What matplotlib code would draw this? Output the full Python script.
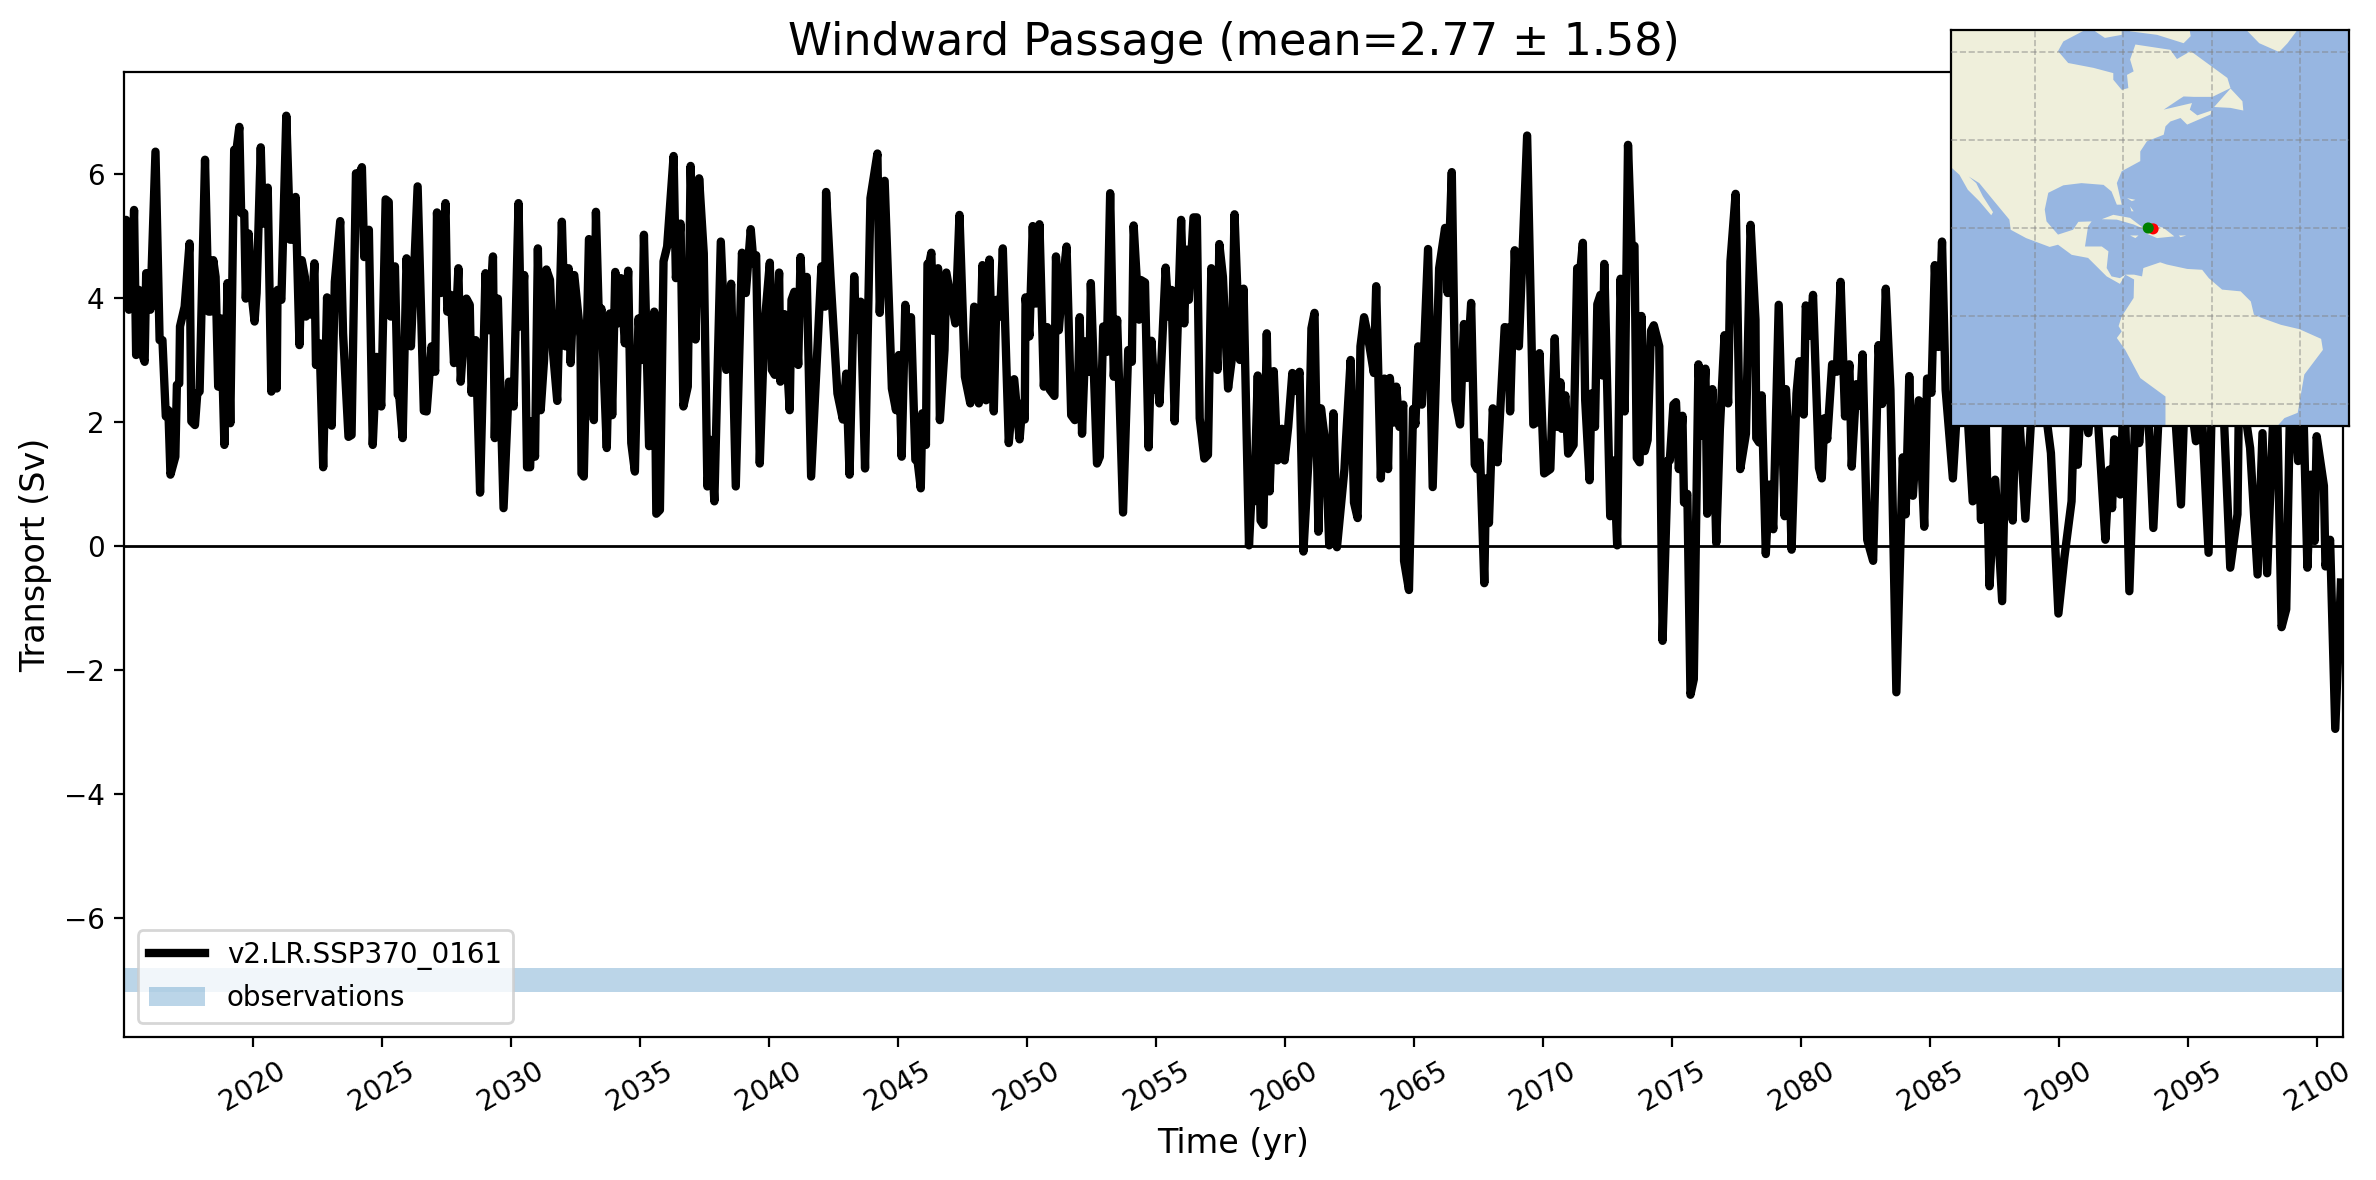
import numpy as np
import matplotlib
matplotlib.use('Agg')
import matplotlib.pyplot as plt

# transport, turning points only (year, Sv)
years_a = [2015.0, 2015.08, 2015.19, 2015.28, 2015.39, 2015.47, 2015.58, 2015.69, 2015.80, 2015.86, 2015.94, 2016.02,
           2016.22, 2016.38, 2016.49, 2016.62, 2016.72, 2016.80, 2016.99, 2017.05, 2017.14, 2017.17, 2017.35, 2017.54,
           2017.61, 2017.75, 2017.84, 2017.93, 2018.14, 2018.28, 2018.35, 2018.46, 2018.55, 2018.65, 2018.76, 2018.89,
           2019.01, 2019.12, 2019.27, 2019.36, 2019.47, 2019.54, 2019.66, 2019.72, 2019.83, 2019.94, 2020.06, 2020.14,
           2020.30, 2020.38, 2020.46, 2020.57, 2020.71, 2020.81, 2020.92, 2020.95, 2021.10, 2021.29, 2021.44, 2021.53,
           2021.65, 2021.80, 2021.89, 2022.01, 2022.05, 2022.19, 2022.27, 2022.38, 2022.44, 2022.58, 2022.72, 2022.87,
           2023.05, 2023.17, 2023.38, 2023.49, 2023.70, 2023.82, 2023.99, 2024.13, 2024.22, 2024.31, 2024.49, 2024.64,
           2024.79, 2024.97, 2025.14, 2025.26, 2025.34, 2025.50, 2025.61, 2025.67, 2025.80, 2025.95, 2026.12, 2026.38,
           2026.62, 2026.73, 2026.92, 2027.06, 2027.13, 2027.28, 2027.46, 2027.53, 2027.67, 2027.79, 2027.96, 2028.05,
           2028.27, 2028.40, 2028.47, 2028.63, 2028.80, 2029.01, 2029.13, 2029.30, 2029.37, 2029.49, 2029.71, 2029.92,
           2030.10, 2030.29, 2030.38, 2030.51, 2030.62, 2030.74, 2030.79, 2030.93, 2031.04, 2031.15, 2031.28, 2031.37,
           2031.51, 2031.62, 2031.79, 2031.97, 2032.11, 2032.23, 2032.31, 2032.45, 2032.69, 2032.73, 2032.82, 2033.02,
           2033.21, 2033.29, 2033.42, 2033.50, 2033.71, 2033.83, 2033.92, 2034.04, 2034.14, 2034.26, 2034.41, 2034.54,
           2034.66, 2034.80, 2034.94, 2035.08, 2035.15, 2035.35, 2035.55, 2035.63, 2035.77, 2035.91, 2036.05, 2036.30,
           2036.39]
transport_a = [5.2, 5.26, 3.81, 3.97, 5.42, 3.08, 4.13, 3.11, 2.97, 4.40, 4.40, 3.81,
               6.36, 3.32, 3.32, 2.09, 2.19, 1.15, 1.44, 2.60, 2.62, 3.54, 3.86, 4.88,
               2.01, 1.95, 2.46, 2.49, 6.23, 3.78, 3.78, 4.61, 4.34, 2.57, 3.67, 1.63,
               4.24, 1.98, 6.39, 6.39, 6.76, 5.37, 5.37, 3.99, 5.04, 4.08, 3.62, 4.08,
               6.43, 5.20, 5.20, 5.78, 2.49, 3.54, 2.54, 4.13, 3.97, 6.94, 4.94, 4.94,
               5.63, 3.24, 4.61, 4.34, 3.70, 4.08, 3.73, 4.56, 2.92, 3.27, 1.27, 4.01,
               1.94, 4.26, 5.24, 3.43, 1.76, 1.79, 6.01, 6.01, 6.11, 4.66, 5.10, 1.63,
               3.05, 2.25, 5.59, 5.55, 3.70, 4.51, 2.44, 2.41, 1.74, 4.64, 3.22, 5.80,
               2.18, 2.17, 3.22, 2.81, 5.38, 4.08, 5.53, 3.78, 4.05, 2.95, 4.48, 2.65,
               3.99, 3.89, 2.47, 3.32, 0.86, 4.40, 3.48, 4.67, 1.74, 3.99, 0.61, 2.65,
               2.25, 5.53, 3.54, 4.37, 1.27, 1.27, 2.01, 1.44, 4.80, 2.19, 3.00, 4.46,
               4.29, 3.16, 2.34, 5.23, 3.22, 4.48, 2.95, 4.37, 3.38, 1.17, 1.12, 4.95,
               2.03, 5.39, 3.43, 3.83, 1.58, 3.75, 2.11, 4.42, 3.59, 4.32, 3.27, 4.44,
               1.66, 1.20, 3.67, 3.00, 5.02, 1.61, 3.78, 0.52, 0.58, 4.59, 4.83, 6.29,
               4.32]

years_b = [2036.57, 2036.68, 2036.85, 2036.96, 2037.15, 2037.29, 2037.47, 2037.61, 2037.75, 2037.88, 2038.13, 2038.34,
           2038.53, 2038.71, 2038.95, 2039.10, 2039.29, 2039.40, 2039.50, 2039.64, 2039.82, 2040.03, 2040.11, 2040.22,
           2040.39, 2040.44, 2040.59, 2040.80, 2040.87, 2040.98, 2041.13, 2041.22, 2041.31, 2041.46, 2041.63, 2042.03,
           2042.17, 2042.21, 2042.38, 2042.65, 2042.86, 2042.99, 2043.12, 2043.30, 2043.37, 2043.55, 2043.72, 2043.93,
           2044.20, 2044.29, 2044.48, 2044.76, 2044.92, 2045.03, 2045.14, 2045.28, 2045.36, 2045.50, 2045.67, 2045.75,
           2045.88, 2045.94, 2046.08, 2046.14, 2046.21, 2046.29, 2046.36, 2046.55, 2046.62, 2046.80, 2046.87, 2047.22,
           2047.38, 2047.59, 2047.80, 2047.95, 2048.13, 2048.27, 2048.41, 2048.54, 2048.71, 2048.81, 2048.95, 2049.06,
           2049.29, 2049.50, 2049.71, 2049.82, 2049.91, 2049.94, 2050.09, 2050.22, 2050.34, 2050.48, 2050.65, 2050.78,
           2050.88, 2051.06, 2051.12, 2051.23, 2051.34, 2051.53, 2051.71, 2051.85, 2051.95, 2052.04, 2052.13, 2052.26,
           2052.42, 2052.47, 2052.71, 2052.82, 2052.95, 2053.09, 2053.22, 2053.36, 2053.49, 2053.72, 2053.92, 2054.06,
           2054.13, 2054.34, 2054.41, 2054.57, 2054.71, 2054.82, 2054.93, 2055.04, 2055.13, 2055.37, 2055.49, 2055.60,
           2055.72, 2055.97, 2056.09, 2056.18, 2056.27, 2056.45, 2056.58, 2056.69, 2056.87, 2057.01, 2057.14, 2057.38,
           2057.45, 2057.59, 2057.79, 2057.93, 2058.04]
transport_b = [5.20, 2.25, 2.57, 6.13, 3.33, 5.93, 4.72, 0.96, 1.71, 0.72, 4.91, 2.84,
               4.23, 0.96, 4.73, 4.08, 5.11, 4.56, 4.69, 1.33, 3.54, 4.57, 2.84, 2.76,
               4.41, 2.65, 3.74, 2.19, 3.97, 4.10, 2.92, 4.66, 3.81, 4.34, 1.12, 4.51,
               3.86, 5.71, 4.34, 2.46, 2.04, 2.78, 1.15, 4.35, 3.48, 3.94, 1.25, 5.61,
               6.33, 3.76, 5.89, 2.54, 2.19, 3.08, 1.44, 3.89, 3.22, 3.69, 1.39, 1.39,
               0.93, 2.14, 1.63, 4.55, 4.56, 4.73, 3.47, 4.48, 2.03, 3.16, 4.41, 3.59,
               5.34, 2.73, 2.30, 3.86, 2.30, 4.53, 2.35, 4.62, 2.17, 3.97, 3.70, 4.80,
               1.66, 2.69, 1.72, 2.30, 2.04, 4.01, 3.38, 5.16, 3.91, 5.19, 2.57, 3.53,
               2.52, 2.42, 4.67, 3.48, 4.08, 4.83, 2.11, 2.03, 2.14, 3.69, 1.81, 3.30,
               2.81, 4.24, 1.33, 1.44, 3.54, 3.13, 5.69, 2.73, 3.65, 0.54, 3.16, 2.97,
               5.17, 3.65, 4.29, 4.25, 1.59, 3.31, 2.52, 2.84, 2.30, 4.49, 3.70, 4.13,
               2.01, 5.26, 3.59, 4.78, 3.97, 5.30, 5.30, 2.06, 1.41, 1.47, 4.48, 2.84,
               4.87, 4.34, 2.54, 3.00, 5.35]

years_c = [2058.25, 2058.39, 2058.60, 2058.73, 2058.80, 2058.94, 2059.05, 2059.16, 2059.29, 2059.40, 2059.56, 2059.70,
           2059.88, 2059.98, 2060.12, 2060.28, 2060.39, 2060.56, 2060.71, 2060.92, 2061.02, 2061.14, 2061.29, 2061.39,
           2061.57, 2061.71, 2061.87, 2062.01, 2062.30, 2062.36, 2062.54, 2062.67, 2062.81, 2062.92, 2063.06, 2063.19,
           2063.44, 2063.53, 2063.71, 2063.85, 2063.99, 2064.06, 2064.20, 2064.31, 2064.43, 2064.58, 2064.61, 2064.80,
           2064.96, 2065.05, 2065.16, 2065.30, 2065.54, 2065.72, 2065.97, 2066.20, 2066.30, 2066.46, 2066.60, 2066.78,
           2066.93, 2067.04, 2067.21, 2067.35, 2067.44, 2067.54, 2067.72, 2067.79, 2067.90, 2068.05, 2068.23, 2068.51,
           2068.65, 2068.72, 2068.90, 2069.06, 2069.38, 2069.62, 2069.73, 2069.86, 2070.04, 2070.28, 2070.45, 2070.56,
           2070.67, 2070.72, 2070.86, 2070.97, 2071.18, 2071.32, 2071.41, 2071.54, 2071.63, 2071.80, 2071.87, 2072.01,
           2072.10, 2072.22, 2072.30, 2072.37, 2072.60, 2072.74, 2072.87, 2073.00, 2073.16, 2073.29, 2073.43, 2073.54,
           2073.63, 2073.74, 2073.81, 2073.94, 2074.05, 2074.18, 2074.29, 2074.50, 2074.63, 2074.84, 2074.91, 2075.05,
           2075.15, 2075.26, 2075.40, 2075.46, 2075.59, 2075.71, 2075.84, 2076.02, 2076.16, 2076.29, 2076.36, 2076.56,
           2076.71, 2076.85, 2077.03, 2077.17, 2077.26, 2077.46, 2077.64, 2077.86, 2078.04, 2078.23, 2078.26, 2078.37,
           2078.47, 2078.63, 2078.76, 2078.92, 2079.13, 2079.36, 2079.41, 2079.50, 2079.63, 2079.82]
transport_c = [3.00, 4.15, 0.01, 1.09, 0.72, 2.75, 0.41, 0.34, 3.43, 0.88, 2.82, 1.38,
               1.89, 1.38, 1.92, 2.79, 2.50, 2.81, -0.09, 1.49, 3.51, 3.76, 0.23, 2.22,
               1.63, 0.01, 2.14, -0.02, 1.24, 1.71, 3.00, 0.70, 0.45, 3.22, 3.69, 3.43,
               2.79, 4.19, 1.09, 2.70, 1.24, 2.71, 1.99, 2.57, 1.92, 2.28, -0.24, -0.71,
               2.21, 1.96, 3.22, 2.28, 4.79, 0.95, 4.48, 5.13, 4.08, 6.03, 2.35, 1.96,
               3.58, 2.71, 3.92, 1.31, 1.24, 1.67, -0.60, 1.09, 0.37, 2.22, 1.35, 3.53,
               3.52, 2.17, 4.77, 3.22, 6.62, 1.96, 1.99, 3.11, 1.17, 1.24, 3.35, 1.92,
               2.64, 1.89, 2.43, 1.49, 1.63, 4.48, 4.30, 4.89, 2.35, 1.06, 2.46, 1.92,
               3.90, 4.05, 2.75, 4.55, 0.48, 1.38, 0.01, 4.31, 2.17, 6.47, 4.80, 4.84,
               1.42, 1.35, 3.71, 1.53, 1.71, 3.47, 3.56, 3.22, -1.53, 1.38, 1.38, 2.28,
               2.32, 1.24, 2.10, 0.70, 0.84, -2.40, -2.15, 2.93, 1.78, 2.86, 0.52, 2.53,
               0.05, 1.89, 3.40, 2.30, 4.59, 5.68, 1.24, 1.81, 5.18, 3.65, 1.74, 1.67,
               2.43, -0.13, 0.99, 0.27, 3.89, 0.48, 2.53, 1.85, -0.06, 2.46]

# from 2086 on the peaks sit behind the map, those are guesses
years_d = [2079.93, 2080.10, 2080.18, 2080.34, 2080.46, 2080.69, 2080.80, 2080.90, 2081.01, 2081.20, 2081.38, 2081.53,
           2081.70, 2081.87, 2081.96, 2082.14, 2082.28, 2082.38, 2082.56, 2082.79, 2083.00, 2083.14, 2083.28, 2083.46,
           2083.69, 2083.94, 2084.05, 2084.19, 2084.33, 2084.56, 2084.77, 2084.88, 2085.05, 2085.18, 2085.32, 2085.46,
           2085.60, 2085.88, 2086.24, 2086.65, 2086.81, 2086.97, 2087.10, 2087.30, 2087.52, 2087.79, 2088.01, 2088.20,
           2088.35, 2088.69, 2089.10, 2089.68, 2089.97, 2090.20, 2090.48, 2090.60, 2090.72, 2090.85, 2091.13, 2091.36,
           2091.79, 2091.94, 2092.05, 2092.14, 2092.37, 2092.52, 2092.72, 2092.98, 2093.10, 2093.36, 2093.65, 2094.01,
           2094.33, 2094.72, 2094.91, 2095.30, 2095.43, 2095.79, 2095.95, 2096.27, 2096.63, 2096.91, 2096.98, 2097.40,
           2097.69, 2097.88, 2098.06, 2098.40, 2098.62, 2098.80, 2098.98, 2099.26, 2099.43, 2099.62, 2099.75, 2099.90,
           2099.98, 2100.26, 2100.32, 2100.50, 2100.70, 2100.92]
transport_d = [2.98, 2.12, 3.88, 3.39, 4.05, 1.26, 1.09, 2.06, 1.72, 2.93, 2.81, 4.26,
               2.09, 2.93, 1.28, 2.61, 2.26, 3.09, 0.10, -0.24, 3.24, 2.29, 4.15, 2.52,
               -2.36, 1.43, 0.51, 2.74, 0.81, 2.35, 0.31, 2.70, 2.47, 4.53, 3.21, 4.91,
               2.52, 1.09, 3.6, 0.72, 2.5, 0.42, 3.0, -0.65, 1.07, -0.89, 3.4, 0.41,
               2.8, 0.44, 3.4, 1.50, -1.09, -0.19, 0.72, 2.4, 1.31, 2.5, 1.82, 3.0,
               0.10, 1.23, 0.61, 1.72, 0.83, 2.8, -0.73, 2.5, 1.66, 3.0, 0.29, 3.5,
               3.2, 0.67, 3.0, 1.69, 3.0, -0.11, 3.0, 3.2, -0.35, 0.51, 2.8, 1.58,
               -0.46, 1.82, -0.44, 3.2, -1.31, -1.02, 3.0, 1.37, 2.8, -0.35, 1.15, 0.08,
               1.77, 0.97, -0.33, 0.10, -2.95, -0.59]

obs_low = -7.2
obs_high = -6.8

xtick_years = list(range(2020, 2101, 5))

# passage end points on the map
point_lon = [-73.3, -74.4]
point_lat = [19.8, 20.0]
point_col = ['red', 'green']

# map outlines, lon/lat
north_america = [(-125, 34.0), (-119.2, 34.0), (-117.1, 32.1), (-115.2, 28.7), (-112.6, 26.1), (-109.9, 22.9), (-109.5, 23.6),
                 (-111.8, 27.2), (-113.3, 30.2), (-115.0, 31.7), (-112.6, 30.2), (-109.5, 26.4), (-105.8, 21.9), (-105.5, 19.6),
                 (-102.0, 17.7), (-96.7, 15.7), (-94.8, 16.2), (-91.7, 13.9), (-88.0, 13.2), (-85.7, 10.9), (-83.8, 9.0),
                 (-80.8, 7.3), (-79.6, 9.4), (-80.8, 8.6), (-82.7, 9.0), (-83.8, 10.9), (-83.4, 14.7), (-84.9, 15.8),
                 (-88.7, 15.8), (-88.0, 20.4), (-87.2, 21.5), (-90.2, 21.4), (-91.4, 19.6), (-94.8, 18.5), (-97.4, 21.5),
                 (-97.8, 24.2), (-97.0, 28.0), (-93.6, 29.7), (-89.5, 30.2), (-84.5, 29.8), (-82.7, 28.3), (-81.5, 25.3),
                 (-80.4, 25.3), (-81.5, 30.2), (-80.4, 32.9), (-76.2, 35.2), (-76.2, 37.4), (-74.7, 39.7), (-70.9, 41.2),
                 (-70.5, 43.1), (-69.4, 44.2), (-67.1, 45.0), (-65.6, 43.5), (-60.3, 45.8), (-60.1, 46.7), (-63.3, 45.6),
                 (-65.0, 46.9), (-64.5, 48.4), (-70.9, 46.9), (-67.5, 49.2), (-66.4, 49.9), (-64.1, 49.8), (-59.9, 49.8),
                 (-55.8, 51.8), (-56.5, 54.1), (-64.8, 60.2), (-67.9, 58.4), (-69.4, 60.5), (-77.3, 61.7),
                 (-78.5, 58.3), (-77.7, 55.6), (-79.2, 54.8), (-78.9, 51.8), (-80.4, 51.4), (-82.3, 53.7), (-82.3, 55.2),
                 (-86.8, 56.4), (-92.5, 57.5), (-94.8, 60.2), (-93.6, 62.4), (-86.8, 66.0), (-125, 66.0)]
south_america = [(-79.6, 9.4), (-77.6, 8.3), (-77.7, 4.1), (-80.4, -0.1), (-81.1, -2.3), (-80.4, -3.5), (-81.5, -5.0),
                 (-79.6, -7.7), (-76.2, -14.1), (-70.5, -18.3), (-70.5, -25.8), (-45.9, -25.8), (-43.6, -23.2), (-40.6, -22.0),
                 (-39.1, -13.3), (-34.9, -7.7), (-35.3, -5.2), (-40.2, -3.0), (-44.4, -2.0), (-48.6, -0.5), (-50.5, 0.3),
                 (-51.2, 3.3), (-53.5, 5.6), (-57.7, 6.0), (-60.7, 8.6), (-62.2, 10.5), (-65.6, 10.7), (-70.2, 11.7),
                 (-71.7, 12.2), (-75.5, 10.9), (-75.8, 9.0), (-77.6, 9.4)]
newfoundland = [(-59.5, 47.5), (-55.8, 51.7), (-53.1, 48.8), (-52.9, 46.7), (-55.8, 47.3)]
baffin = [(-78.5, 66.0), (-78.5, 64.7), (-72.4, 63.9), (-66.4, 62.0), (-64.8, 63.6), (-65.2, 66.0)]
southampton = [(-86.4, 66.0), (-86.4, 64.7), (-84.2, 63.2), (-80.4, 63.9), (-80.4, 66.0)]
greenland = [(-52.3, 66.0), (-52.3, 65.1), (-49.3, 62.0), (-44.8, 60.0), (-42.9, 62.0), (-40.6, 65.1), (-40.6, 66.0)]
cuba = [(-84.9, 22.0), (-82.3, 23.0), (-78.5, 22.3), (-75.5, 20.0), (-74.7, 19.5), (-77.7, 20.8), (-81.5, 21.9)]
hispaniola = [(-74.7, 18.7), (-73.3, 20.8), (-70.9, 20.0), (-68.5, 18.1), (-72.4, 17.7)]
jamaica = [(-78.5, 18.3), (-76.6, 18.3), (-77.3, 17.7)]
puerto_rico = [(-67.5, 18.3), (-65.8, 18.3), (-67.1, 17.9)]
bahamas_n = [(-79.2, 26.8), (-77.3, 26.4), (-78.1, 26.1)]
bahamas_s = [(-78.5, 24.9), (-77.7, 23.8), (-78.2, 23.8)]
land_shapes = [north_america, south_america, newfoundland, baffin, southampton, greenland,
               cuba, hispaniola, jamaica, puerto_rico, bahamas_n, bahamas_s]

years = np.concatenate([years_a, years_b, years_c, years_d])
transport = np.concatenate([transport_a, transport_b, transport_c, transport_d])

W, H = 2376, 1180
fig = plt.figure(figsize=(W / 200, H / 200), dpi=200)
ax = fig.add_axes([124 / W, 1 - 1037 / H, (2343 - 124) / W, (1037 - 72) / H])

ax.plot(years, transport, color='k', lw=3, label='v2.LR.SSP370_0161')
ax.axhline(0, color='k', lw=1)
ax.axhspan(obs_low, obs_high, color='C0', alpha=0.3, lw=0, label='observations')
ax.set_xlim(2015.0, 2101.0)
ax.set_ylim(-7.92, 7.645)
ax.set_xticks(xtick_years)
ax.tick_params(axis='x', labelrotation=30)
ax.set_xlabel('Time (yr)', fontsize=12)
ax.set_ylabel('Transport (Sv)', fontsize=12)
ax.set_title('Windward Passage (mean=2.77 ± 1.58)', fontsize=16)
ax.legend(loc='lower left', fontsize=10)

# inset map, plain lon/lat axes
inset = fig.add_axes([1951 / W, 1 - 426 / H, (2349 - 1951) / W, (426 - 30) / H], zorder=5)
inset.set_facecolor('#97b6e1')
for shape in land_shapes:
    inset.fill(*zip(*shape), color='#efefdb', lw=0, zorder=1)
inset.set_xlim(-119, -29)
inset.set_ylim(-25, 65)
inset.set_xticks([-100, -80, -60, -40])
inset.set_yticks([-20, 0, 20, 40, 60])
inset.tick_params(length=0, labelbottom=False, labelleft=False)
inset.grid(True, color='gray', ls='--', lw=0.6, alpha=0.5, zorder=2)
inset.set_axisbelow(False)
inset.scatter(point_lon, point_lat, c=point_col, s=16, lw=0, zorder=3)

fig.savefig('out.png', dpi=200)
